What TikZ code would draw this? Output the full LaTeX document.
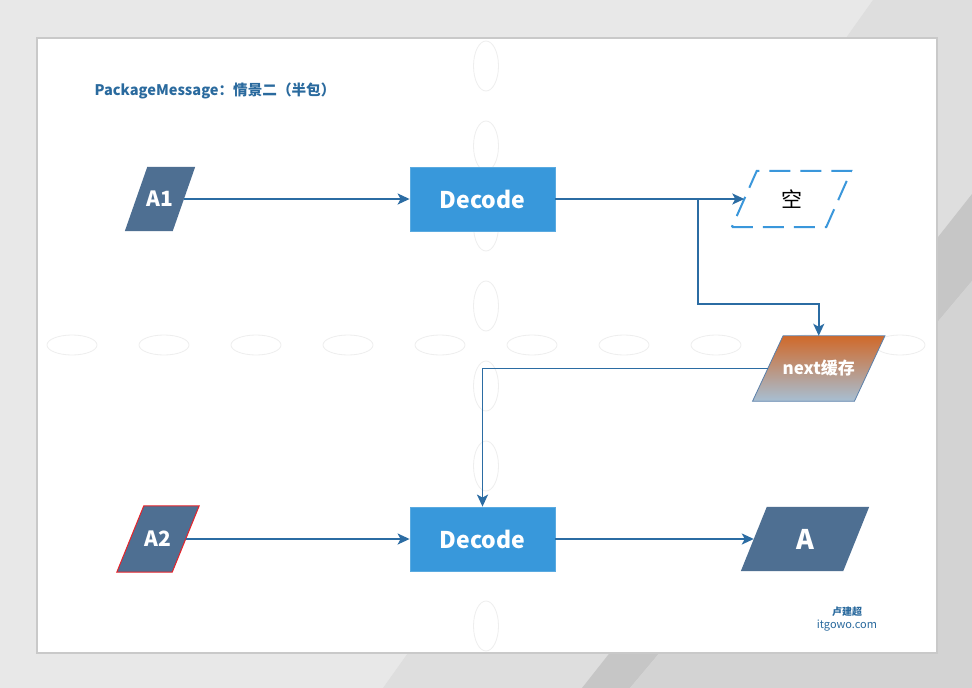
\documentclass[tikz,border=0pt]{standalone}
\usepackage{fontspec}
\setmainfont{Noto Sans CJK SC}
\usetikzlibrary{arrows.meta,calc}
\pgfdeclarelayer{back}
\pgfdeclarelayer{mid}
\pgfsetlayers{back,mid,main}
\definecolor{bgA}{HTML}{E8E8E8}
\definecolor{bgB}{HTML}{DEDEDE}
\definecolor{bgC}{HTML}{C6C6C6}
\definecolor{bgD}{HTML}{D3D3D3}
\definecolor{cardline}{HTML}{C9C9C9}
\definecolor{ghost}{HTML}{EEEEEE}
\definecolor{arrowblue}{HTML}{2B6CA3}
\definecolor{decfill}{HTML}{3898DB}
\definecolor{decline}{HTML}{5AAAE0}
\definecolor{slate}{HTML}{4E6F92}
\definecolor{dashblue}{HTML}{3A97DB}
\definecolor{gradtop}{HTML}{D0692A}
\definecolor{gradbot}{HTML}{A7BFD3}
\definecolor{nextline}{HTML}{5B80AA}
\definecolor{redline}{HTML}{E8232A}
\definecolor{titleblue}{HTML}{2A6A9E}
\newcommand\myparagram[3]{%
  \begin{pgfonlayer}{mid}
  \path[#3] ($(#1.south west)+(-#2/2,0)$) -- ($(#1.south east)+(-#2/2,0)$)
     -- ($(#1.north east)+(#2/2,0)$) -- ($(#1.north west)+(#2/2,0)$) -- cycle;
  \end{pgfonlayer}}
\begin{document}
\begin{tikzpicture}[x=1pt,y=-1pt,
  arr/.style={draw=arrowblue,line width=1.8pt,-{Stealth[length=12pt,width=11pt,inset=3pt]}},
  decbox/.style={rectangle,fill=decfill,draw=decline,line width=0.8pt,minimum width=145pt,minimum height=64pt,inner sep=0pt,text=white,font=\bfseries\fontsize{23}{28}\selectfont},
  paratext/.style={rectangle,inner sep=0pt,text=white},
  ghostv/.style={draw=ghost,line width=0.8pt},
]
\useasboundingbox (0,0) rectangle (972,688);
\begin{pgfonlayer}{back}
\fill[bgA] (0,0) rectangle (972,688);
\fill[bgB] (873,0) -- (972,0) -- (972,688) -- (383,688) -- cycle;
\fill[bgC] (972,194) -- (582,688) -- (630,688) -- (972,281) -- cycle;
\fill[bgD] (972,281) -- (630,688) -- (972,688) -- cycle;
\filldraw[fill=white,draw=cardline,line width=1.5pt] (37,38) rectangle (937,653);
\foreach \k in {0,...,7} {\draw[ghostv] (486,66+80*\k) ellipse [x radius=12.5, y radius=25];}
\foreach \k in {0,...,9} {\draw[ghostv] (72+92*\k,345) ellipse [x radius=25, y radius=10];}
\end{pgfonlayer}

\node[anchor=west,text=titleblue,font=\bfseries\fontsize{14.6}{17}\selectfont] (title) at (91,91) {PackageMessage：情景二（半包）};

\node[paratext,minimum width=47.5pt,minimum height=64pt,font=\bfseries\fontsize{21}{26}\selectfont] (a1) at (160,199) {A1};
\myparagram{a1}{22.5}{fill=slate}

\node[decbox] (dec1) at (482.5,199) {Decode};

\node[rectangle,inner sep=0pt,minimum width=94pt,minimum height=56pt,font=\fontsize{21}{24}\selectfont] (kong) at (791.5,199) {空};
\myparagram{kong}{25}{draw=dashblue,line width=2pt,dash pattern=on 21pt off 10pt,line cap=butt}

\node[paratext,minimum width=101.5pt,minimum height=65pt,font=\bfseries\fontsize{17}{20}\selectfont] (nextc) at (818.75,368.5) {next缓存};
\myparagram{nextc}{30.5}{top color=gradtop,bottom color=gradbot,draw=nextline,line width=0.8pt}

\node[paratext,minimum width=55pt,minimum height=66pt,font=\bfseries\fontsize{21}{26}\selectfont] (a2) at (158,539) {A2};
\myparagram{a2}{27}{fill=slate,draw=redline,line width=1pt}

\node[decbox] (dec2) at (482.5,539) {Decode};

\node[paratext,minimum width=102pt,minimum height=64pt,font=\bfseries\fontsize{27}{32}\selectfont] (aout) at (805,539) {A};
\myparagram{aout}{26}{fill=slate}

\node[text=titleblue,font=\bfseries\fontsize{10}{12}\selectfont] (wm1) at (847,612) {卢建超};
\node[text=titleblue,font=\fontsize{11}{13}\selectfont] (wm2) at (847,626) {itgowo.com};

\coordinate (br) at (698,199);
\draw[arr] (a1.east) -- (dec1.west);
\draw[arr] (dec1.east) -- (kong.west);
\draw[arr] (br) |- ($(nextc.north)+(0,-32)$) -- (nextc.north);
\draw[arr] (nextc.west) -| (dec2.north);
\draw[arr] (a2.east) -- (dec2.west);
\draw[arr] (dec2.east) -- (aout.west);
\end{tikzpicture}
\end{document}
